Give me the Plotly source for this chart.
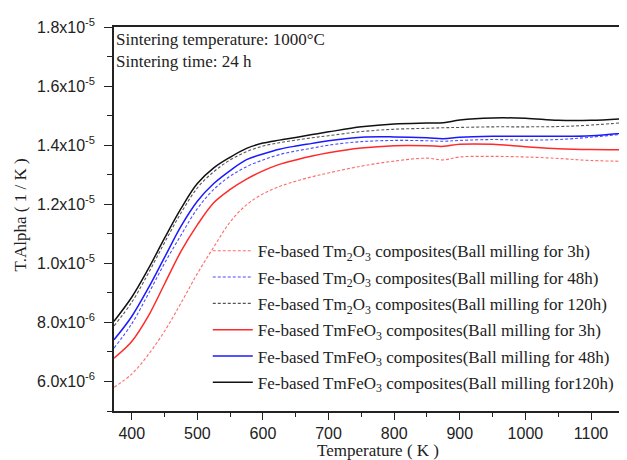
import plotly.graph_objects as go

temperature = [373, 400, 425, 450, 475, 500, 525, 550, 575, 600, 625, 650, 675, 700,
               750, 800, 850, 875, 900, 950, 1000, 1050, 1100, 1166]

tm2o3_3h = [5.80e-6, 6.25e-6, 6.90e-6, 7.70e-6, 8.65e-6, 9.65e-6, 10.55e-6, 11.40e-6, 11.98e-6, 12.35e-6,
            12.60e-6, 12.78e-6, 12.93e-6, 13.06e-6, 13.29e-6, 13.46e-6, 13.56e-6, 13.50e-6, 13.60e-6,
            13.62e-6, 13.60e-6, 13.55e-6, 13.48e-6, 13.45e-6]
tm2o3_48h = [7.13e-6, 7.95e-6, 8.95e-6, 10.00e-6, 10.95e-6, 11.85e-6, 12.50e-6, 12.95e-6, 13.27e-6, 13.50e-6,
             13.68e-6, 13.80e-6, 13.90e-6, 14.00e-6, 14.12e-6, 14.16e-6, 14.15e-6, 14.13e-6, 14.16e-6,
             14.19e-6, 14.17e-6, 14.19e-6, 14.27e-6, 14.41e-6]
tm2o3_120h = [7.88e-6, 8.68e-6, 9.65e-6, 10.70e-6, 11.70e-6, 12.55e-6, 13.10e-6, 13.50e-6, 13.78e-6, 13.97e-6,
              14.08e-6, 14.17e-6, 14.25e-6, 14.32e-6, 14.46e-6, 14.54e-6, 14.57e-6, 14.59e-6, 14.60e-6,
              14.62e-6, 14.62e-6, 14.63e-6, 14.68e-6, 14.79e-6]
tmfeo3_3h = [6.79e-6, 7.35e-6, 8.20e-6, 9.30e-6, 10.40e-6, 11.30e-6, 12.05e-6, 12.50e-6, 12.85e-6, 13.13e-6,
             13.35e-6, 13.50e-6, 13.63e-6, 13.74e-6, 13.90e-6, 13.98e-6, 13.98e-6, 13.96e-6, 14.03e-6,
             14.03e-6, 13.95e-6, 13.88e-6, 13.85e-6, 13.85e-6]
tmfeo3_48h = [7.41e-6, 8.20e-6, 9.15e-6, 10.20e-6, 11.25e-6, 12.10e-6, 12.70e-6, 13.14e-6, 13.51e-6, 13.70e-6,
              13.86e-6, 13.97e-6, 14.06e-6, 14.15e-6, 14.27e-6, 14.28e-6, 14.25e-6, 14.22e-6, 14.27e-6,
              14.30e-6, 14.30e-6, 14.30e-6, 14.32e-6, 14.45e-6]
tmfeo3_120h = [8.04e-6, 8.85e-6, 9.80e-6, 10.85e-6, 11.85e-6, 12.70e-6, 13.23e-6, 13.59e-6, 13.89e-6, 14.07e-6,
               14.17e-6, 14.26e-6, 14.36e-6, 14.45e-6, 14.62e-6, 14.72e-6, 14.75e-6, 14.76e-6, 14.85e-6,
               14.92e-6, 14.91e-6, 14.84e-6, 14.84e-6, 14.92e-6]

series_names = [
    "Fe-based Tm<sub>2</sub>O<sub>3</sub> composites(Ball milling for 3h)",
    "Fe-based Tm<sub>2</sub>O<sub>3</sub> composites(Ball milling for 48h)",
    "Fe-based Tm<sub>2</sub>O<sub>3</sub> composites(Ball milling for 120h)",
    "Fe-based TmFeO<sub>3</sub> composites(Ball milling for 3h)",
    "Fe-based TmFeO<sub>3</sub> composites(Ball milling for 48h)",
    "Fe-based TmFeO<sub>3</sub> composites(Ball milling for120h)",
]
series_values = [tm2o3_3h, tm2o3_48h, tm2o3_120h, tmfeo3_3h, tmfeo3_48h, tmfeo3_120h]
series_colors = ["#ff6b6b", "#4d4dff", "#555555", "#ff2a2a", "#1a1aff", "#111111"]
series_dash = ["3px,2px", "3px,2px", "3px,2px", "solid", "solid", "solid"]
series_width = [1.1, 1.1, 1.1, 1.5, 1.5, 1.5]

y_tickvals = [6e-6, 8e-6, 1.0e-5, 1.2e-5, 1.4e-5, 1.6e-5, 1.8e-5]
y_ticktext = ["6.0x10<sup>-6</sup>", "8.0x10<sup>-6</sup>", "1.0x10<sup>-5</sup>", "1.2x10<sup>-5</sup>",
              "1.4x10<sup>-5</sup>", "1.6x10<sup>-5</sup>", "1.8x10<sup>-5</sup>"]
x_tickvals = [400, 500, 600, 700, 800, 900, 1000, 1100]

x_title = "Temperature ( K )"
y_title = "T.Alpha ( 1 / K )"
note_text = "Sintering temperature: 1000\u00b0C<br>Sintering time: 24 h"

fig = go.Figure()
for i, (name, vals, col, dash, w) in enumerate(zip(series_names, series_values, series_colors,
                                                   series_dash, series_width)):
    fig.add_trace(go.Scatter(x=temperature, y=vals, mode="lines", name=name, legendgroup=f"g{i}",
                             line=dict(color=col, dash=dash, width=w, shape="spline", smoothing=1.0)))

serif = "Liberation Serif, Times New Roman, serif"
sans = "Liberation Sans, Arial, sans-serif"
ink = "#222222"

fig.update_layout(
    template="none",
    width=627, height=460,
    margin=dict(l=106, r=0, t=19, b=57, autoexpand=False),
    paper_bgcolor="white", plot_bgcolor="white",
    showlegend=True,
    legend=dict(x=0.180, y=0.463, xanchor="left", yanchor="top", bgcolor="rgba(0,0,0,0)",
                font=dict(family=serif, size=17, color=ink), itemwidth=40,
                tracegroupgap=1.2, borderwidth=0),
    xaxis=dict(range=[373, 1167], tickvals=x_tickvals, ticks="outside", ticklen=7, tickwidth=1.3,
               tickcolor=ink, automargin=False,
               showline=True, linecolor=ink, linewidth=1.5, mirror=True, showgrid=False, zeroline=False,
               tickfont=dict(family=sans, size=16, color=ink),
               minor=dict(ticks="outside", ticklen=4, tickwidth=1.3, tickcolor=ink, dtick=50, tick0=350,
                          showgrid=False)),
    yaxis=dict(range=[5e-6, 1.8e-5], tickvals=y_tickvals, ticktext=y_ticktext, ticks="outside", ticklen=8,
               tickwidth=1.3, tickcolor=ink, automargin=False, ticklabelstandoff=6,
               showline=True, linecolor=ink, linewidth=1.5, showgrid=False, zeroline=False,
               tickfont=dict(family=sans, size=16, color=ink),
               minor=dict(ticks="outside", ticklen=5, tickwidth=1.3, tickcolor=ink, dtick=1e-6, tick0=5e-6,
                          showgrid=False)),
    annotations=[
        dict(x=0, y=1, xref="paper", yref="paper", xanchor="left", yanchor="top", xshift=0, yshift=-1,
             showarrow=False, align="left", text=note_text,
             font=dict(family=serif, size=17, color=ink)),
        dict(x=0.507, y=-0.104, xref="paper", yref="paper", xanchor="center", yanchor="middle",
             showarrow=False, text=x_title, font=dict(family=serif, size=17, color=ink)),
        dict(x=-0.180, y=0.51, xref="paper", yref="paper", xanchor="center", yanchor="middle",
             showarrow=False, text=y_title, textangle=-90, font=dict(family=serif, size=17, color=ink)),
    ],
)

fig.write_html("out.html")
